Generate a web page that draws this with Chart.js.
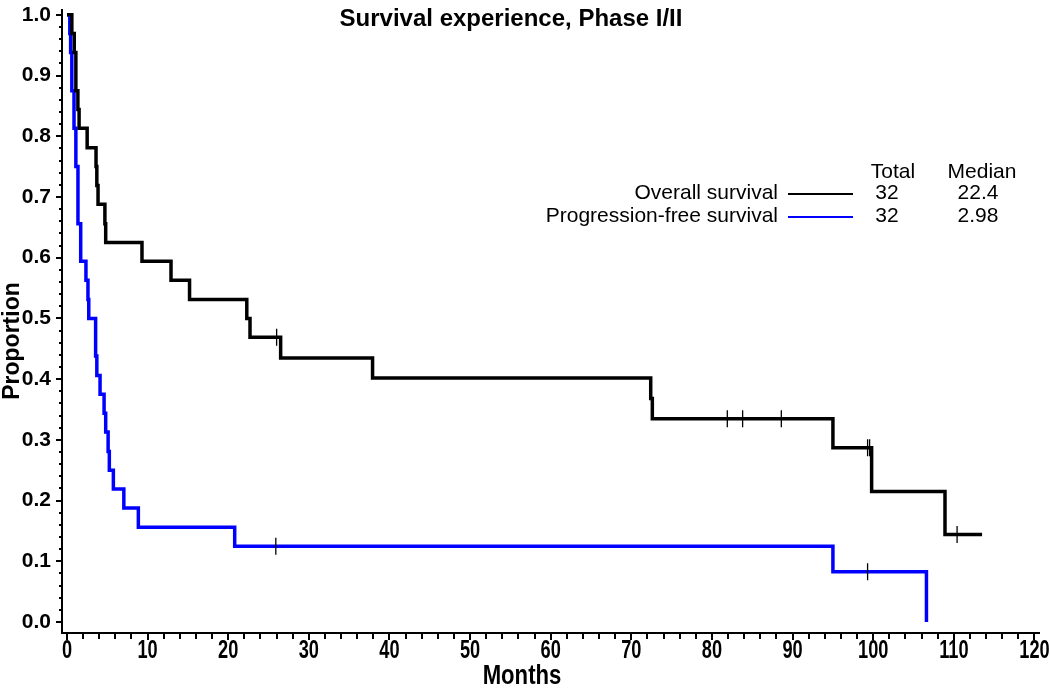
<!DOCTYPE html>
<html><head><meta charset="utf-8">
<script src="https://cdn.jsdelivr.net/npm/chart.js@4/dist/chart.umd.min.js"></script>
<style>html,body{margin:0;padding:0;background:#fff}#wrap{width:1050px;height:689px}</style>
</head><body><div id="wrap"><canvas id="c" width="1050" height="689" style="width:1050px;height:689px"></canvas></div>
<script>
// ---- data ----
const osTimes = [0, 0.6, 0.9, 1.1, 1.35, 1.5, 2.5, 3.6, 3.7, 3.85, 4.7, 4.8, 9.3, 12.9, 15.2, 22.3, 22.7, 26.5, 37.9, 72.4, 72.6, 95.0, 99.8, 108.9, 113.5];
const osSurv  = [1.0, 0.969, 0.938, 0.875, 0.844, 0.813, 0.781, 0.750, 0.719, 0.688, 0.656, 0.625, 0.594, 0.563, 0.531, 0.500, 0.469, 0.435, 0.402, 0.368, 0.335, 0.287, 0.215, 0.144, 0.144];
const osCensor = [26.0, 81.9, 83.8, 88.6, 99.3, 99.55, 110.4];

const pfsTimes = [0, 0.35, 0.45, 0.6, 0.87, 1.1, 1.36, 1.7, 2.35, 2.6, 2.7, 3.55, 3.7, 4.1, 4.6, 4.8, 5.1, 5.25, 5.75, 7.05, 8.85, 20.8, 95.0, 106.6];
const pfsSurv  = [1.0, 0.969, 0.938, 0.875, 0.813, 0.750, 0.656, 0.594, 0.563, 0.531, 0.500, 0.438, 0.406, 0.375, 0.344, 0.313, 0.281, 0.250, 0.219, 0.188, 0.156, 0.125, 0.083, 0.0];
const pfsCensor = [25.9, 99.3];

const xTickValues = [0, 10, 20, 30, 40, 50, 60, 70, 80, 90, 100, 110, 120];
const yTickValues = [0, 0.1, 0.2, 0.3, 0.4, 0.5, 0.6, 0.7, 0.8, 0.9, 1.0];

const titleText = 'Survival experience, Phase I/II';
const xTitle = 'Months';
const yTitle = 'Proportion';
const legendHeader = ['Total', 'Median'];
const seriesNames = ['Overall survival', 'Progression-free survival'];
const seriesTotals = ['32', '32'];
const seriesMedians = ['22.4', '2.98'];
const seriesColors = ['#000000', '#0000ff'];

// ---- helpers ----
function pts(t, s) { return t.map((v, i) => ({x: v, y: s[i]})); }
function stepAt(t, s, x) { let k = 0; for (let i = 0; i < t.length; i++) if (t[i] <= x) k = i; return s[k]; }
function censorPts(c, t, s) { return c.map(x => ({x: x, y: stepAt(t, s, x)})); }

const SANS = "'Liberation Sans', Arial, sans-serif";

const decor = {
  id: 'decor',
  afterDraw(chart) {
    const ctx = chart.ctx, xs = chart.scales.x, ys = chart.scales.y, ca = chart.chartArea;
    ctx.save();
    ctx.strokeStyle = '#000';
    ctx.lineWidth = 2;
    // x ticks (major every 10, minor every 2)
    for (let v = 0; v <= 120; v += 2) {
      const px = Math.round(xs.getPixelForValue(v));
      const len = (v % 10 === 0) ? 7 : 6;
      ctx.beginPath(); ctx.moveTo(px, ca.bottom); ctx.lineTo(px, ca.bottom + len); ctx.stroke();
    }
    // y ticks (major every 0.1, minor every 0.02)
    for (let k = 0; k <= 50; k++) {
      const py = Math.round(ys.getPixelForValue(k / 50));
      const len = (k % 5 === 0) ? 6 : 3;
      ctx.beginPath(); ctx.moveTo(ca.left, py); ctx.lineTo(ca.left - len, py); ctx.stroke();
    }
    ctx.fillStyle = '#000';
    // x tick labels (condensed bold)
    ctx.font = 'bold 26px ' + SANS;
    ctx.textAlign = 'center'; ctx.textBaseline = 'middle';
    xTickValues.forEach(v => {
      ctx.save();
      ctx.translate(xs.getPixelForValue(v), 651);
      ctx.scale(0.7, 1);
      ctx.fillText(String(v), 0, 0);
      ctx.restore();
    });
    // x axis title
    ctx.save();
    ctx.font = 'bold 27px ' + SANS;
    ctx.translate(522, 677);
    ctx.scale(0.82, 1);
    ctx.fillText(xTitle, 0, 0);
    ctx.restore();
    // y axis title
    ctx.save();
    ctx.font = 'bold 23px ' + SANS;
    ctx.translate(13, 341);
    ctx.rotate(-Math.PI / 2);
    ctx.fillText(yTitle, 0, 0);
    ctx.restore();
    // title
    ctx.font = 'bold 24px ' + SANS;
    ctx.fillText(titleText, 511, 19);
    // legend table
    ctx.font = '21px ' + SANS;
    ctx.fillText(legendHeader[0], 893, 172);
    ctx.fillText(legendHeader[1], 982, 172);
    const rows = [193, 216];
    for (let i = 0; i < 2; i++) {
      ctx.textAlign = 'right';
      ctx.fillText(seriesNames[i], 778, rows[i]);
      ctx.textAlign = 'center';
      ctx.fillText(seriesTotals[i], 887, rows[i]);
      ctx.fillText(seriesMedians[i], 978, rows[i]);
      ctx.strokeStyle = seriesColors[i];
      ctx.lineWidth = 2;
      ctx.beginPath(); ctx.moveTo(788, rows[i] + 1); ctx.lineTo(853, rows[i] + 1); ctx.stroke();
    }
    ctx.restore();
  }
};

new Chart(document.getElementById('c'), {
  type: 'line',
  data: {
    datasets: [
      {label: seriesNames[0], data: pts(osTimes, osSurv), borderColor: seriesColors[0], borderWidth: 3.5, stepped: true, pointRadius: 0, fill: false, order: 2},
      {label: seriesNames[1], data: pts(pfsTimes, pfsSurv), borderColor: seriesColors[1], borderWidth: 3.5, stepped: true, pointRadius: 0, fill: false, order: 3},
      {type: 'scatter', label: 'os censored', data: censorPts(osCensor, osTimes, osSurv), pointStyle: 'line', rotation: 90, radius: 8.5, borderColor: '#000', borderWidth: 1.3, backgroundColor: '#000', showLine: false, order: 1},
      {type: 'scatter', label: 'pfs censored', data: censorPts(pfsCensor, pfsTimes, pfsSurv), pointStyle: 'line', rotation: 90, radius: 8.5, borderColor: '#000', borderWidth: 1.3, backgroundColor: '#000', showLine: false, order: 1}
    ]
  },
  options: {
    responsive: false,
    devicePixelRatio: 1,
    animation: false,
    layout: {padding: {top: 5, right: 11, left: 0, bottom: 0}},
    plugins: {legend: {display: false}, tooltip: {enabled: false}, title: {display: false}},
    scales: {
      x: {
        type: 'linear', min: -0.62, max: 120.56,
        afterBuildTicks: s => { s.ticks = xTickValues.map(v => ({value: v})); },
        afterFit: s => { s.height = 56; s.paddingLeft = 0; s.paddingRight = 0; },
        ticks: {display: false},
        grid: {display: false, drawTicks: false},
        border: {display: true, color: '#000', width: 2},
        title: {display: false}
      },
      y: {
        type: 'linear', min: -0.018, max: 1.0082,
        afterBuildTicks: s => { s.ticks = yTickValues.map(v => ({value: v})); },
        afterFit: s => { s.width = 62; s.paddingTop = 0; s.paddingBottom = 0; },
        ticks: {color: '#000', padding: 11, autoSkip: false, callback: v => Number(v).toFixed(1), font: {family: SANS, size: 21, weight: 'bold', lineHeight: 1}},
        grid: {display: false, drawTicks: false},
        border: {display: true, color: '#000', width: 2},
        title: {display: false}
      }
    }
  },
  plugins: [decor]
});
</script>
</body></html>
